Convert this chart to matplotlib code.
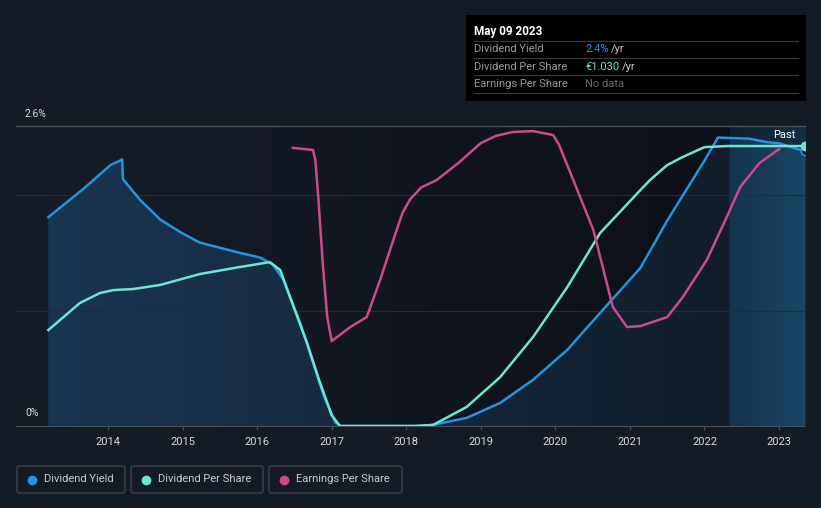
import matplotlib
matplotlib.use("Agg")
import matplotlib.pyplot as plt
import numpy as np
from matplotlib.colors import to_rgb
from matplotlib.patches import Rectangle, FancyBboxPatch
from matplotlib.lines import Line2D

plt.rcParams["font.family"] = ["Roboto", "DejaVu Sans"]

# ---- data ----
yield_years = [2013.2, 2013.66, 2013.89, 2014.03, 2014.16, 2014.19, 2014.2, 2014.43,
               2014.7, 2014.97, 2015.23, 2015.77, 2016.04, 2016.21, 2016.35, 2016.58,
               2016.74, 2016.9, 2017.05, 2017.12, 2018.2, 2018.36, 2018.81, 2019.26,
               2019.7, 2020.16, 2020.6, 2021.14, 2021.5, 2022.0, 2022.18, 2022.6,
               2022.84, 2023.0, 2023.35]
yield_pct = [1.81, 2.05, 2.18, 2.26, 2.30, 2.31, 2.14, 1.96,
             1.79, 1.68, 1.59, 1.50, 1.46, 1.40, 1.27, 0.89,
             0.57, 0.25, 0.03, 0.0, 0.0, 0.01, 0.07, 0.20,
             0.40, 0.66, 0.98, 1.37, 1.78, 2.30, 2.50, 2.49,
             2.46, 2.45, 2.38]

dps_years = [2013.2, 2013.62, 2013.89, 2014.07, 2014.34, 2014.7, 2015.23, 2015.77,
             2016.17, 2016.31, 2016.44, 2016.67, 2016.83, 2017.0, 2017.11, 2018.1,
             2018.36, 2018.81, 2019.26, 2019.7, 2020.16, 2020.6, 2021.14, 2021.27,
             2021.5, 2021.71, 2022.0, 2022.3, 2023.35]
dps_eur = [0.353, 0.452, 0.489, 0.500, 0.504, 0.519, 0.559, 0.585,
           0.603, 0.574, 0.475, 0.305, 0.170, 0.040, 0.0, 0.0,
           0.004, 0.070, 0.180, 0.327, 0.511, 0.710, 0.868, 0.905,
           0.960, 0.990, 1.026, 1.030, 1.030]

# earnings per share, relative scale (0-100 of chart height)
eps_years = [2016.48, 2016.75, 2016.78, 2016.82, 2016.88, 2016.94, 2017.0, 2017.25,
             2017.47, 2017.65, 2017.88, 2017.95, 2018.05, 2018.2, 2018.41, 2018.7,
             2019.0, 2019.2, 2019.43, 2019.7, 2019.97, 2020.05, 2020.24, 2020.51,
             2020.77, 2020.96, 2021.14, 2021.5, 2021.71, 2022.03, 2022.3, 2022.48,
             2022.74, 2023.0]
eps_rel = [92.7, 92.0, 88.7, 76.3, 54.3, 36.3, 28.3, 33.0,
           36.3, 48.7, 66.0, 71.0, 75.5, 79.5, 82.0, 87.7,
           94.3, 96.7, 98.0, 98.3, 97.0, 93.7, 82.0, 65.3,
           39.7, 33.0, 33.3, 36.3, 43.0, 55.3, 69.7, 79.7,
           87.7, 92.3]

year_ticks = list(range(2014, 2024))

# ---- style ----
bg = "#151b25"
c_yield = "#2394df"
c_dps = "#6ce5d1"
c_eps = "#cc4a8c"
past_start = 2022.34
x0, x1 = 2012.766, 2023.348

W, H = 821, 508
fig = plt.figure(figsize=(W / 100, H / 100), dpi=100, facecolor=bg)


def px(x, y):
    return x / W, 1 - y / H


ax = fig.add_axes([16 / W, (H - 426) / H, (805 - 16) / W, 300 / H])
ax.set_facecolor("none")
ax.set_xlim(x0, x1)
ax.set_ylim(0, 2.6)


def hgrad(xs, cols, n=400):
    t = np.linspace(xs[0], xs[-1], n)
    rgb = np.array([to_rgb(c) for c in cols])
    img = np.stack([np.interp(t, xs, rgb[:, k]) for k in range(3)], axis=-1)
    return img[None, :, :]


# background gradient
ax.imshow(hgrad([2013.2, past_start], ["#161d28", "#0d1016"]),
          extent=[2013.2, past_start, 0, 2.6], aspect="auto", zorder=0)
ax.imshow(hgrad([past_start, x1], ["#10202f", "#152e44"]),
          extent=[past_start, x1, 0, 2.6], aspect="auto", zorder=0)

# gradient fill under dividend yield
poly = ax.fill_between(yield_years, yield_pct, 0, facecolor="none", edgecolor="none")
fill_img = hgrad([2013.2, past_start, past_start + 0.001, x1],
                 ["#1a3550", "#111d2a", "#15334c", "#1a4566"])
im = ax.imshow(fill_img, extent=[2013.2, x1, 0, 2.6], aspect="auto", zorder=1)
im.set_clip_path(poly.get_paths()[0], transform=ax.transData)

# grid
for g in [1, 2]:
    ax.plot([x0, x1], [g, g], color="#252b34", lw=0.9, zorder=1.5)
ax.plot([x0, x1], [2.6, 2.6], color="#4a4f58", lw=1.0, zorder=1.5, clip_on=False)

ax.plot(yield_years, yield_pct, color=c_yield, lw=1.8, zorder=4,
        solid_joinstyle="round")

ax2 = ax.twinx()
ax2.set_ylim(0, 300 / 271.8)
ax2.plot(dps_years, dps_eur, color=c_dps, lw=1.8, zorder=4, solid_joinstyle="round")
ax3 = ax.twinx()
ax3.set_ylim(0, 100)
ax3.plot(eps_years, eps_rel, color=c_eps, lw=1.8, zorder=4, solid_joinstyle="round")

ax2.plot([dps_years[-1]], [dps_eur[-1]], "o", ms=6, color=c_dps, zorder=5)
ax.plot([yield_years[-1]], [yield_pct[-1]], "o", ms=6, mfc=bg, mec=c_yield,
        mew=1.2, zorder=5)

for a in (ax, ax2, ax3):
    a.set_xlim(x0, x1)
    for s in a.spines.values():
        s.set_visible(False)
    a.set_yticks([])
ax.spines["bottom"].set_visible(True)
ax.spines["bottom"].set_color("#4a4f58")
ax.set_xticks(year_ticks)
ax.set_xticklabels([str(y) for y in year_ticks])
ax.tick_params(axis="x", colors="#4a4f58", labelcolor="#d6d8dc", labelsize=8,
               length=3, pad=5)
ax2.tick_params(axis="x", bottom=False, labelbottom=False)
ax3.tick_params(axis="x", bottom=False, labelbottom=False)

fig.text(*px(25, 114), "2.6%", color="#d6d8dc", fontsize=7.5, va="center")
fig.text(*px(25, 413), "0%", color="#d6d8dc", fontsize=7.5, va="center")
ax.text(2023.22, 2.48, "Past", color="#ffffff", fontsize=8, ha="right",
        va="bottom", zorder=6)

# tooltip box
fig.patches.append(Rectangle(px(466, 101), 340 / W, 86 / H, transform=fig.transFigure,
                             facecolor="#000000", edgecolor="none", zorder=1))
fig.text(*px(474, 31), "May 09 2023", color="#ffffff", fontsize=8.5,
         fontweight="bold", va="center")
for yy in [41, 58, 75, 93]:
    fig.lines.append(Line2D([474 / W, 798 / W], [1 - yy / H] * 2, color="#3a3a3a",
                            lw=0.8, transform=fig.transFigure))
rows = [("Dividend Yield", "2.4%", c_yield, 611),
        ("Dividend Per Share", "€1.030", c_dps, 622),
        ("Earnings Per Share", "No data", "#666a70", None)]
for i, (lab, val, col, suf_x) in enumerate(rows):
    yy = 49 + i * 17.5
    fig.text(*px(474, yy), lab, color="#9a9ca0", fontsize=8, va="center")
    fig.text(*px(585, yy), val, color=col, fontsize=8, va="center")
    if suf_x:
        fig.text(*px(suf_x, yy), "/yr", color="#c8cacc", fontsize=8, va="center")

# legend boxes
legend = [("Dividend Yield", c_yield, 17, 125),
          ("Dividend Per Share", c_dps, 131, 263),
          ("Earnings Per Share", c_eps, 269, 402)]
for lab, col, xa, xb in legend:
    fig.patches.append(FancyBboxPatch(px(xa, 493), (xb - xa) / W, 27 / H,
                                      boxstyle="round,pad=0,rounding_size=0.004",
                                      transform=fig.transFigure, facecolor="none",
                                      edgecolor="#3c424c", lw=1))
    fig.lines.append(Line2D([(xa + 15) / W], [1 - 479.5 / H], marker="o", ms=6,
                            color=col, transform=fig.transFigure))
    fig.text(*px(xa + 27, 479.5), lab, color="#c8cacc", fontsize=8, va="center")

fig.savefig("out.png", dpi=100, facecolor=bg)
